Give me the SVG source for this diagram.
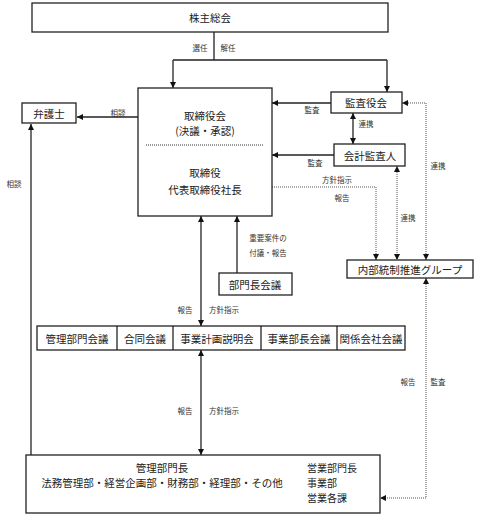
<svg xmlns="http://www.w3.org/2000/svg" width="480" height="520" viewBox="0 0 480 520">
<style>
.box{fill:#fff;stroke:#222;stroke-width:1.3}
.t{font-family:"Noto Sans CJK JP","Liberation Serif",serif;font-size:10.5px;fill:#222;text-anchor:middle;dominant-baseline:central}
.r{font-family:"Noto Sans CJK JP","Liberation Serif",serif;font-size:10px;fill:#222;text-anchor:start;dominant-baseline:central}
.s{font-family:"Noto Sans CJK JP","Liberation Serif",serif;font-size:7.5px;fill:#333;text-anchor:middle;dominant-baseline:central}
.ln{fill:none;stroke:#222;stroke-width:1.3}
.dt{fill:none;stroke:#555;stroke-width:1;stroke-dasharray:1 1}
</style>
<defs>
<marker id="a" viewBox="0 0 6 6" refX="6" refY="3" markerWidth="6" markerHeight="6" markerUnits="userSpaceOnUse" orient="auto-start-reverse">
<path d="M0,0 L6,3 L0,6 z" fill="#111"/>
</marker>
</defs>
<g id="connectors">
<path class="ln" d="M214,32 V60 M173,60 H387"/>
<path class="ln" d="M173,60 V88" marker-end="url(#a)"/>
<path class="ln" d="M387,60 V92" marker-end="url(#a)"/>
<path class="ln" d="M138,117 H77" marker-end="url(#a)"/>
<path class="ln" d="M31,455 V124" marker-end="url(#a)"/>
<path class="ln" d="M331,103 H272" marker-end="url(#a)"/>
<path class="ln" d="M334,155 H272" marker-end="url(#a)"/>
<path class="ln" d="M353,113 V144" marker-start="url(#a)" marker-end="url(#a)"/>
<path class="dt" d="M402,103 H426 V260" marker-start="url(#a)" marker-end="url(#a)"/>
<path class="dt" d="M248,187 H376 V260" marker-start="url(#a)" marker-end="url(#a)"/>
<path class="dt" d="M397,166 V260" marker-start="url(#a)" marker-end="url(#a)"/>
<path class="dt" d="M426,278 V498 H380" marker-start="url(#a)" marker-end="url(#a)"/>
<path class="ln" d="M237,273 V216" marker-end="url(#a)"/>
<path class="ln" d="M201,216 V326" marker-start="url(#a)" marker-end="url(#a)"/>
<path class="ln" d="M201,350 V455" marker-start="url(#a)" marker-end="url(#a)"/>
<text class="s" x="200" y="47">選任</text>
<text class="s" x="228" y="47">解任</text>
<text class="s" x="118" y="112">相談</text>
<text class="s" x="14" y="183">相談</text>
<text class="s" x="312" y="109">監査</text>
<text class="s" x="315" y="162">監査</text>
<text class="s" x="366" y="123">連携</text>
<text class="s" x="438" y="165">連携</text>
<text class="s" x="337" y="179">方針指示</text>
<text class="s" x="342" y="197">報告</text>
<text class="s" x="408" y="217">連携</text>
<text class="s" x="268" y="237">重要案件の</text>
<text class="s" x="268" y="252">付議・報告</text>
<text class="s" x="185" y="309">報告</text>
<text class="s" x="224" y="309">方針指示</text>
<text class="s" x="185" y="410">報告</text>
<text class="s" x="224" y="410">方針指示</text>
<text class="s" x="408" y="381">報告</text>
<text class="s" x="438" y="381">監査</text>
</g>
<g id="shareholders">
<rect class="box" x="32" y="3" width="356" height="29"/>
<text class="t" x="210" y="17">株主総会</text>
</g>
<g id="board">
<rect class="box" x="138" y="88" width="134" height="128"/>
<text class="t" x="205" y="115">取締役会</text>
<text class="t" x="205" y="130">(決議・承認)</text>
<line x1="146" y1="145" x2="264" y2="145" stroke="#333" stroke-width="1" stroke-dasharray="1 1"/>
<text class="t" x="205" y="172">取締役</text>
<text class="t" x="205" y="189">代表取締役社長</text>
</g>
<g id="lawyer">
<rect class="box" x="22" y="103" width="54" height="20"/>
<text class="t" x="49" y="113">弁護士</text>
</g>
<g id="auditors">
<rect class="box" x="331" y="92" width="71" height="21"/>
<text class="t" x="366" y="102.5">監査役会</text>
</g>
<g id="accounting-auditor">
<rect class="box" x="334" y="144" width="71" height="22"/>
<text class="t" x="370" y="155">会計監査人</text>
</g>
<g id="internal-control">
<rect class="box" x="347" y="260" width="126" height="18"/>
<text class="t" x="410" y="269">内部統制推進グループ</text>
</g>
<g id="dept-meeting">
<rect class="box" x="219" y="273" width="73" height="22"/>
<text class="t" x="255" y="284">部門長会議</text>
</g>
<g id="meetings">
<rect class="box" x="37" y="326" width="368" height="24"/>
<line x1="117" y1="326" x2="117" y2="350" stroke="#222" stroke-width="1.3"/>
<line x1="173" y1="326" x2="173" y2="350" stroke="#222" stroke-width="1.3"/>
<line x1="261" y1="326" x2="261" y2="350" stroke="#222" stroke-width="1.3"/>
<line x1="337" y1="326" x2="337" y2="350" stroke="#222" stroke-width="1.3"/>
<text class="t" x="77" y="338">管理部門会議</text>
<text class="t" x="145" y="338">合同会議</text>
<text class="t" x="217" y="338">事業計画説明会</text>
<text class="t" x="299" y="338">事業部長会議</text>
<text class="t" x="371" y="338">関係会社会議</text>
</g>
<g id="departments">
<rect class="box" x="26" y="455" width="354" height="58"/>
<text class="t" x="162" y="467">管理部門長</text>
<text class="t" x="162" y="482">法務管理部・経営企画部・財務部・経理部・その他</text>
<text class="r" x="307" y="467">営業部門長</text>
<text class="r" x="307" y="482">事業部</text>
<text class="r" x="307" y="497">営業各課</text>
</g>
</svg>
